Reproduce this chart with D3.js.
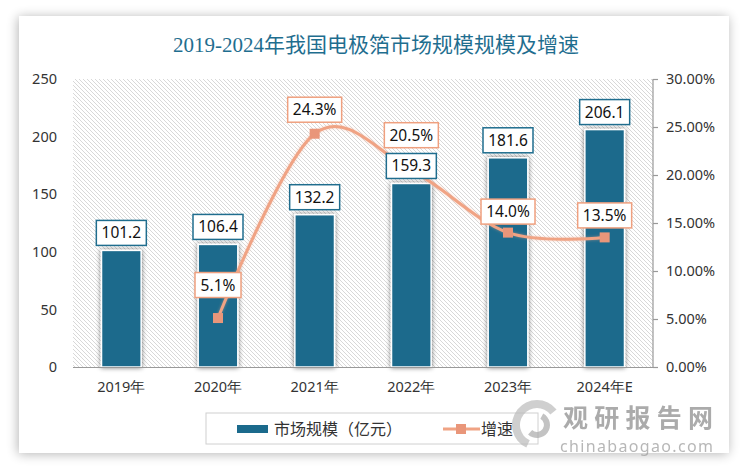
<!DOCTYPE html>
<html><head><meta charset="utf-8">
<script src="https://cdn.jsdelivr.net/npm/d3@7"></script>
<style>body{margin:0;background:#fff;}svg{display:block;}</style>
</head><body>
<svg id="c" width="750" height="471"></svg>
<script>
const categories = ["2019年","2020年","2021年","2022年","2023年","2024年E"];
const marketSize = [101.2,106.4,132.2,159.3,181.6,206.1];
const growthCats = ["2020年","2021年","2022年","2023年","2024年E"];
const growth = [5.1,24.3,20.5,14.0,13.5];
const leftTicks = [0,50,100,150,200,250];
const rightTicks = [0,5,10,15,20,25,30];
const pctLabelDy = [-33,-24,-35,-21,-22];

const svg = d3.select("#c");
const defs = svg.append("defs");
const sh = defs.append("filter").attr("id","cardsh").attr("x","-10%").attr("y","-10%").attr("width","120%").attr("height","120%");
sh.append("feGaussianBlur").attr("in","SourceAlpha").attr("stdDeviation",6).attr("result","b");
sh.append("feOffset").attr("in","b").attr("dx",-1).attr("dy",1).attr("result","o");
sh.append("feComponentTransfer").attr("in","o").attr("result","t").append("feFuncA").attr("type","linear").attr("slope",0.3);
const m1=sh.append("feMerge"); m1.append("feMergeNode").attr("in","t"); m1.append("feMergeNode").attr("in","SourceGraphic");

const bs = defs.append("filter").attr("id","barsh").attr("x","-30%").attr("y","-10%").attr("width","160%").attr("height","120%");
bs.append("feGaussianBlur").attr("in","SourceAlpha").attr("stdDeviation",2.5).attr("result","b");
bs.append("feComponentTransfer").attr("in","b").attr("result","t").append("feFuncA").attr("type","linear").attr("slope",0.55);
const m2=bs.append("feMerge"); m2.append("feMergeNode").attr("in","t"); m2.append("feMergeNode").attr("in","SourceGraphic");

const ls = defs.append("filter").attr("id","linesh").attr("x","-10%").attr("y","-10%").attr("width","120%").attr("height","120%");
ls.append("feGaussianBlur").attr("in","SourceGraphic").attr("stdDeviation",1.5).attr("result","b");
ls.append("feComponentTransfer").attr("in","b").attr("result","t").append("feFuncA").attr("type","linear").attr("slope",0.5);
const m3=ls.append("feMerge"); m3.append("feMergeNode").attr("in","t"); m3.append("feMergeNode").attr("in","SourceGraphic");

const pat = defs.append("pattern").attr("id","hatch").attr("patternUnits","userSpaceOnUse")
  .attr("width",4).attr("height",4);
pat.append("rect").attr("width",4).attr("height",4).attr("fill","#fff");
pat.append("path").attr("d","M-1,-1 L5,5 M-1,3 L1,5 M3,-1 L5,1").attr("stroke","#d4d4d4").attr("stroke-width",0.9);

svg.append("rect").attr("x",19).attr("y",16).attr("width",710).attr("height",437).attr("fill","#fff").attr("filter","url(#cardsh)");

svg.append("text").attr("x",376).attr("y",52).attr("text-anchor","middle")
  .attr("font-family","'Liberation Serif','Noto Sans CJK SC',serif").attr("font-size",21)
  .attr("fill","#1F6E8F").text("2019-2024年我国电极箔市场规模规模及增速");

const pLeft=73,pRight=653,pTop=79,pBottom=367;
const x = d3.scaleBand().domain(categories).range([pLeft,pRight]).paddingInner(0.59).paddingOuter(0.295);
const y = d3.scaleLinear().domain([0,250]).range([pBottom,pTop]);
const y2 = d3.scaleLinear().domain([0,30]).range([pBottom,pTop]);

svg.append("rect").attr("x",pLeft).attr("y",pTop).attr("width",pRight-pLeft).attr("height",pBottom-pTop).attr("fill","url(#hatch)");

const font="'Noto Sans','Open Sans',sans-serif";
const gL = svg.append("g").attr("transform",`translate(${pLeft},0)`)
  .call(d3.axisLeft(y).tickValues(leftTicks).tickSize(0).tickPadding(16));
gL.select(".domain").remove();
gL.selectAll("text").attr("font-family",font).attr("font-size",14.5).attr("fill","#333");

const gR = svg.append("g").attr("transform",`translate(${pRight},0)`)
  .call(d3.axisRight(y2).tickValues(rightTicks).tickSize(5).tickPadding(8).tickFormat(d=>d.toFixed(2)+"%"));
gR.select(".domain").attr("stroke","#999").attr("stroke-width",1.2).attr("d",`M0,${pTop}V${pBottom}`);
gR.selectAll(".tick line").attr("stroke","#999").attr("stroke-width",1.2);
gR.selectAll("text").attr("font-family",font).attr("font-size",14.5).attr("fill","#333");

svg.append("g").selectAll("rect").data(marketSize).join("rect")
  .attr("x",(d,i)=>x(categories[i])).attr("width",x.bandwidth())
  .attr("y",d=>y(d)).attr("height",d=>pBottom-y(d))
  .attr("fill","#1B6A8C").attr("stroke","#fff").attr("stroke-width",1.5).attr("filter","url(#barsh)");

svg.append("line").attr("x1",pLeft).attr("x2",pRight).attr("y1",pBottom+0.5).attr("y2",pBottom+0.5).attr("stroke","#999").attr("stroke-width",1.2);

const gX = svg.append("g").attr("transform",`translate(0,${pBottom})`)
  .call(d3.axisBottom(x).tickSize(0).tickPadding(15));
gX.select(".domain").remove();
gX.selectAll("text").attr("font-family",font).attr("font-size",14.5).attr("fill","#333");

const cx = c => x(c)+x.bandwidth()/2;
const line = d3.line().x((d,i)=>cx(growthCats[i])).y(d=>y2(d)).curve(d3.curveCardinal.tension(0));
svg.append("path").datum(growth).attr("d",line).attr("fill","none").attr("stroke","#F0A384").attr("stroke-width",3).attr("filter","url(#linesh)");
svg.append("g").selectAll("rect").data(growth).join("rect")
  .attr("x",(d,i)=>cx(growthCats[i])-5).attr("y",d=>y2(d)-5).attr("width",10).attr("height",10).attr("fill","#E9967A");

function box(g, cxp, cyp, txt, color, w){
  g.append("rect").attr("x",cxp-w/2).attr("y",cyp-12.5).attr("width",w).attr("height",25)
    .attr("fill","#fff").attr("stroke",color).attr("stroke-width",1.5);
  g.append("text").attr("x",cxp).attr("y",cyp+5.5).attr("text-anchor","middle")
    .attr("font-family",font).attr("font-size",15.5).attr("fill","#111").text(txt);
}
const lab = svg.append("g");
marketSize.forEach((d,i)=>box(lab, cx(categories[i]), y(d)-17.5, d.toFixed(1), "#1F6D8E", 50));
growth.forEach((d,i)=>box(lab, cx(growthCats[i]), y2(d)+pctLabelDy[i], d.toFixed(1)+"%", "#EFA07F", i==0?46:54));

const lg = svg.append("g");
lg.append("rect").attr("x",206).attr("y",413).attr("width",332).attr("height",31).attr("fill","#fff").attr("stroke","#d0d0d0");
lg.append("rect").attr("x",237).attr("y",425).attr("width",31).attr("height",8).attr("fill","#1B6A8C");
lg.append("text").attr("x",274).attr("y",435).attr("font-family","'Noto Sans CJK SC',sans-serif").attr("font-size",16).attr("fill","#333").text("市场规模（亿元）");
lg.append("line").attr("x1",443).attr("x2",480).attr("y1",429).attr("y2",429).attr("stroke","#F0A384").attr("stroke-width",3);
lg.append("rect").attr("x",456).attr("y",424).attr("width",10).attr("height",10).attr("fill","#E9967A");
lg.append("text").attr("x",481).attr("y",435).attr("font-family","'Noto Sans CJK SC',sans-serif").attr("font-size",16).attr("fill","#333").text("增速");

const wm = svg.append("g").attr("opacity",0.7);
wm.append("path").attr("d",d3.arc()({innerRadius:17,outerRadius:25,startAngle:-2.7,endAngle:0.9})).attr("transform","translate(537,425)").attr("fill","#bbb");
wm.append("path").attr("d",d3.arc()({innerRadius:7,outerRadius:13,startAngle:0.5,endAngle:3.9})).attr("transform","translate(537,425)").attr("fill","#aaa");
wm.append("text").attr("x",563).attr("y",427).attr("font-family","'Noto Sans CJK SC',sans-serif").attr("font-weight","bold").attr("font-size",25).attr("textLength",150).attr("fill","#888").text("观研报告网");
wm.append("text").attr("x",560).attr("y",452).attr("font-family",font).attr("font-size",16).attr("fill","#999").attr("textLength",153).text("chinabaogao.com");
</script>
</body></html>
